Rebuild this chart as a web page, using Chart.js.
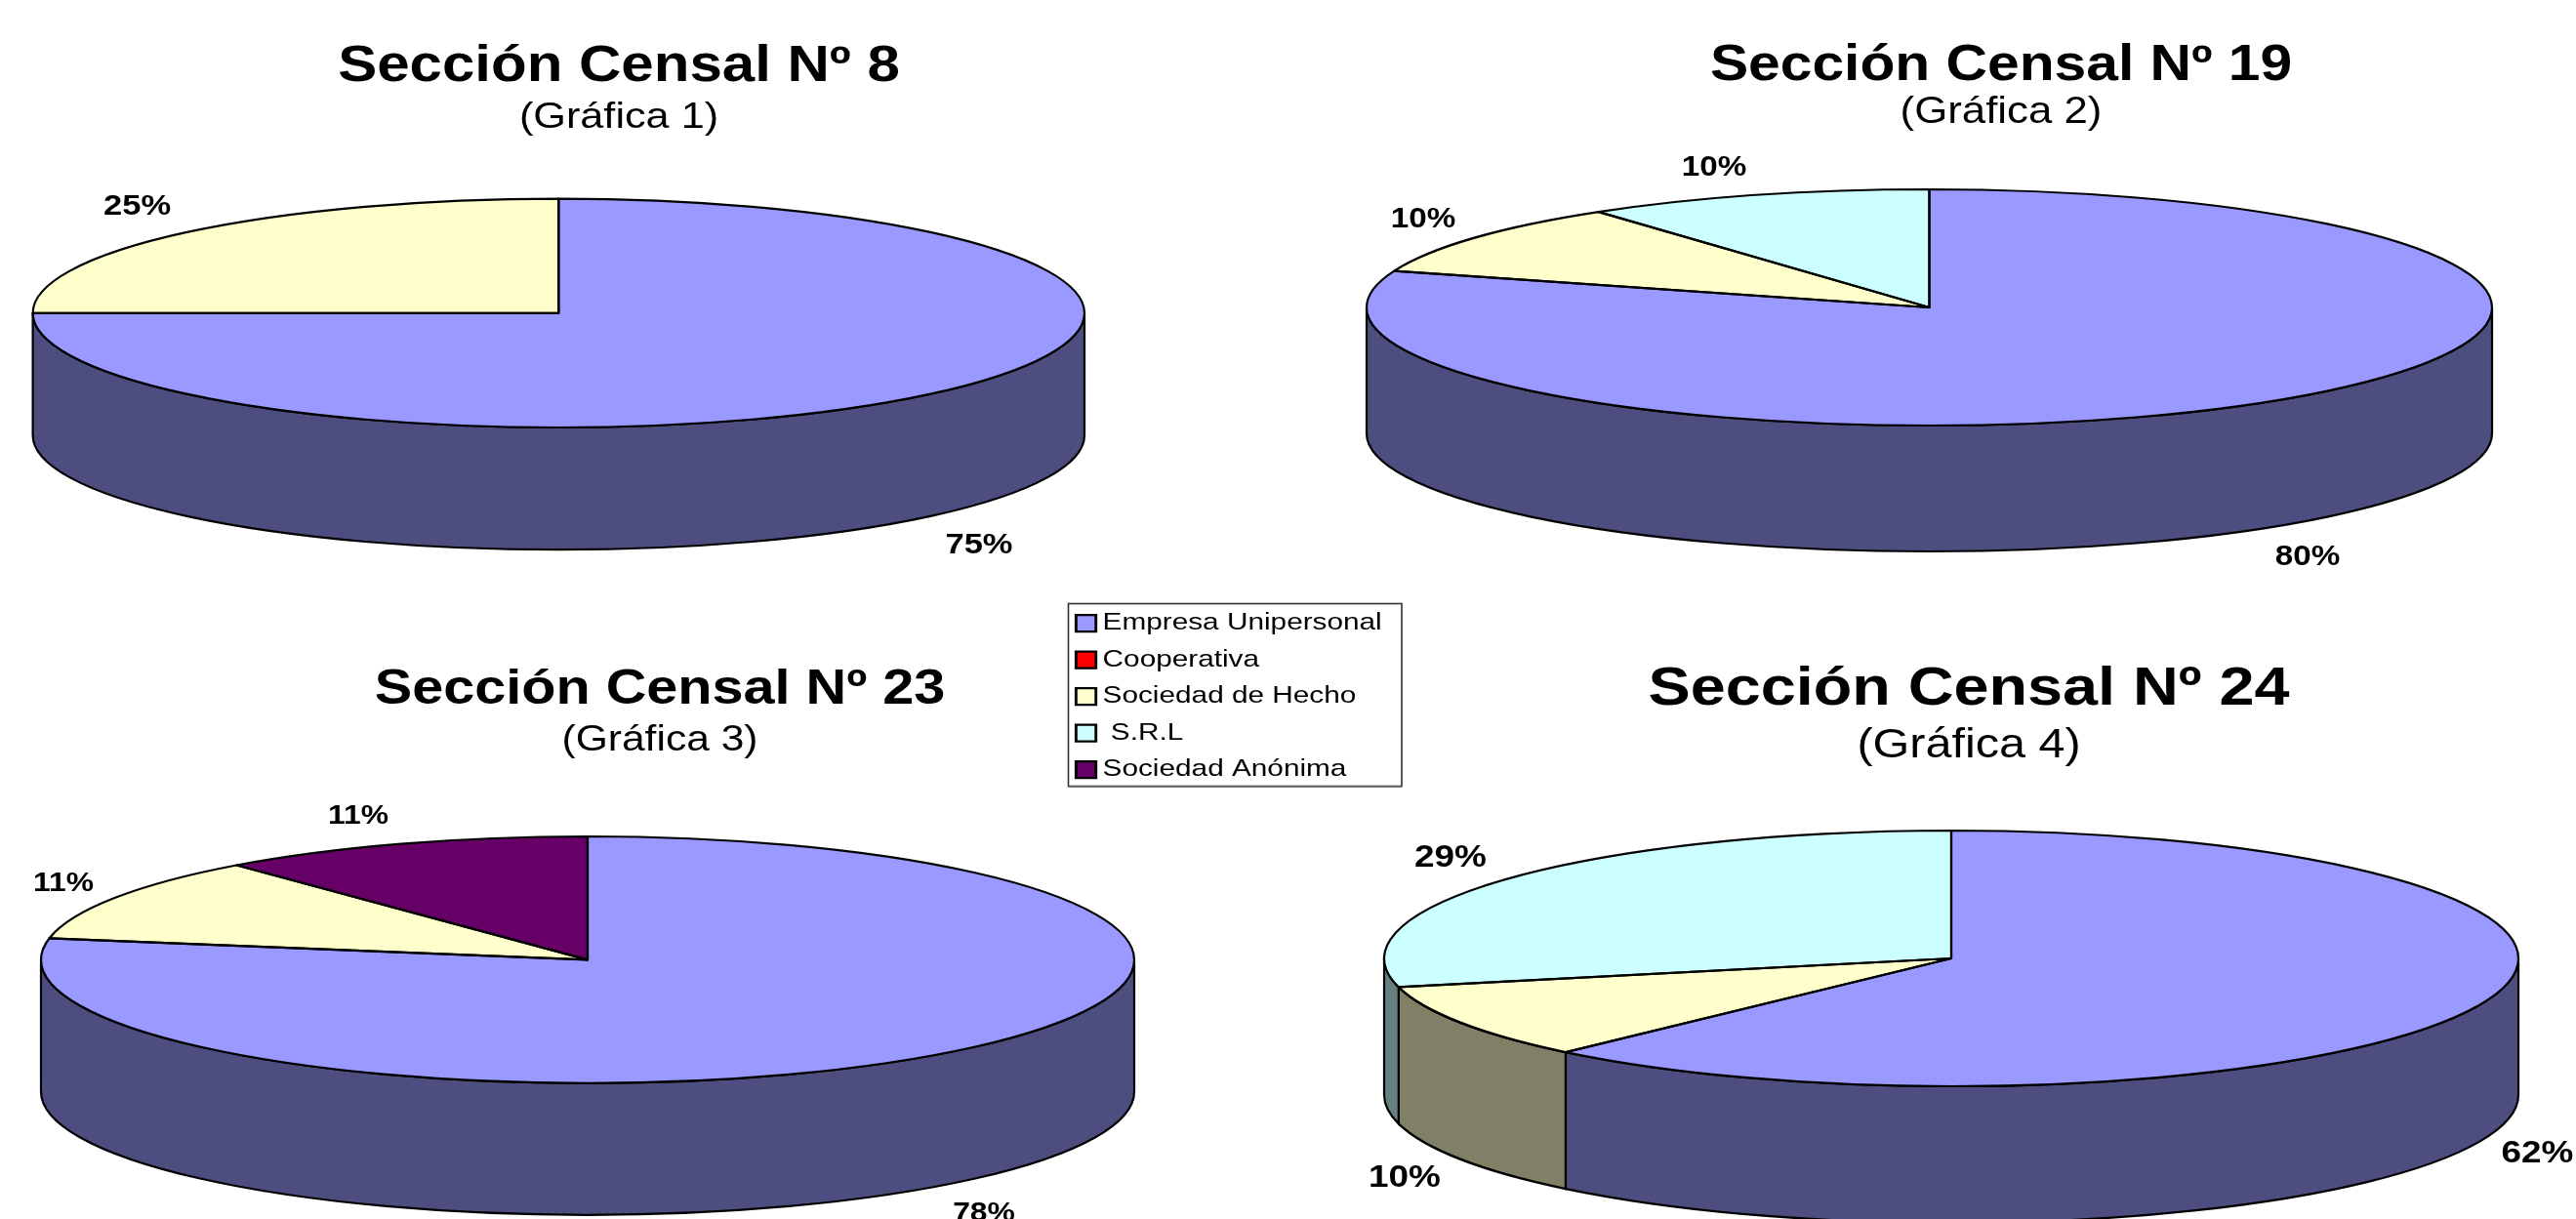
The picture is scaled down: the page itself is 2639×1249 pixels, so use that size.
<!DOCTYPE html>
<html>
<head>
<meta charset="utf-8">
<script src="https://cdn.jsdelivr.net/npm/chart.js@4/dist/chart.umd.min.js"></script>
<style>
html,body{margin:0;padding:0;background:#fff;width:2639px;height:1249px;overflow:hidden}
canvas{position:absolute;left:0;top:0}
</style>
</head>
<body>
<script>
// ---- data ----
const categories = ['Empresa Unipersonal', 'Cooperativa', 'Sociedad de Hecho', ' S.R.L', 'Sociedad Anónima'];
const seccion8  = [75, 0, 25, 0, 0];
const seccion19 = [80, 0, 10, 10, 0];
const seccion23 = [77.8, 0, 11.1, 0, 11.1];
const seccion24 = [61.9, 0, 9.5, 28.6, 0];
const titles    = ['Sección Censal Nº 8', 'Sección Censal Nº 19', 'Sección Censal Nº 23', 'Sección Censal Nº 24'];
const subtitles = ['(Gráfica 1)', '(Gráfica 2)', '(Gráfica 3)', '(Gráfica 4)'];

// ---- styling ----
const topColors  = ['#9999FF', '#FF0000', '#FFFFCC', '#CCFFFF', '#660066'];
const wallColors = ['#4D4D80', '#800000', '#808066', '#668080', '#330033'];
const FONT = '"Liberation Sans", Arial, sans-serif';
const SX = 1.15;         // the original artwork is stretched horizontally
const LEGEND_SX = 1.2;
const W = 2639, H = 1249, R = 100, LINE = 2.2;

const layouts = [
  { values: seccion8,  cx: 572.3, cy: 320.8, a: 538.7, b: 117.2, depth: 125.2,
    textCx: 634, titleSize: 52.2, titleBase: 87, subSize: 37.6, subBase: 134, labelSize: 30,
    labels: [[1003, 559], null, [140.6, 211.5], null, null] },
  { values: seccion19, cx: 1976.5, cy: 315, a: 576.5, b: 121, depth: 129,
    textCx: 2050, titleSize: 51.1, titleBase: 86, subSize: 38.1, subBase: 129, labelSize: 28.9,
    labels: [[2364, 571.5], null, [1458, 225], [1756, 172.5], null] },
  { values: seccion23, cx: 602, cy: 983.4, a: 560, b: 126.4, depth: 135,
    textCx: 676, titleSize: 50.1, titleBase: 725, subSize: 37, subBase: 771.5, labelSize: 27.7,
    labels: [[1008, 1243.5], null, [65, 905], null, [367, 836.5]] },
  { values: seccion24, cx: 1999, cy: 982, a: 581, b: 131, depth: 140,
    textCx: 2017, titleSize: 56.3, titleBase: 726, subSize: 42.2, subBase: 778.5, labelSize: 32.1,
    labels: [[2599.5, 1182.5], null, [1439, 1207], [1486, 879], null] }
];

function stretchPlugin(originX) {
  return {
    id: 'stretch',
    beforeDraw(chart) {
      const c = chart.ctx; c.save();
      c.translate(originX, 0); c.scale(SX, 1); c.translate(-W / 2, 0);
    },
    afterDraw(chart) { chart.ctx.restore(); }
  };
}

function pie3dPlugin(L) {
  const toPie = (c, arc) => {
    c.setTransform(1, 0, 0, 1, 0, 0);
    c.translate(L.cx, L.cy);
    c.scale(L.a / R, L.b / R);
    c.translate(-arc.x, -arc.y);
  };
  const arcs = chart => chart.getDatasetMeta(0).data;
  return {
    id: 'pie3d',
    beforeDatasetsDraw(chart) {
      const c = chart.ctx;
      // side wall: front half of each slice
      arcs(chart).forEach((arc, i) => {
        const lo = Math.max(arc.startAngle, 0), hi = Math.min(arc.endAngle, Math.PI);
        if (hi <= lo) return;
        c.save();
        c.setTransform(1, 0, 0, 1, 0, 0);
        const px = t => L.cx + L.a * Math.cos(t), py = t => L.cy + L.b * Math.sin(t);
        c.beginPath();
        c.ellipse(L.cx, L.cy, L.a, L.b, 0, lo, hi);
        c.lineTo(px(hi), py(hi) + L.depth);
        c.ellipse(L.cx, L.cy + L.depth, L.a, L.b, 0, hi, lo, true);
        c.closePath();
        c.fillStyle = wallColors[i];
        c.fill();
        c.lineWidth = LINE; c.strokeStyle = '#000'; c.stroke();
        c.restore();
      });
      c.save();
      toPie(c, arcs(chart)[0]);
    },
    afterDatasetsDraw(chart) {
      const c = chart.ctx;
      c.restore();
      c.save();
      // outlines at a constant pen width
      arcs(chart).forEach(arc => {
        if (arc.endAngle - arc.startAngle <= 0) return;
        c.save();
        toPie(c, arc);
        c.beginPath();
        c.moveTo(arc.x, arc.y);
        c.arc(arc.x, arc.y, arc.outerRadius, arc.startAngle, arc.endAngle);
        c.closePath();
        c.setTransform(1, 0, 0, 1, 0, 0);
        c.lineWidth = LINE; c.lineJoin = 'round'; c.strokeStyle = '#000'; c.stroke();
        c.restore();
      });
      // percentage labels
      L.values.forEach((v, i) => {
        if (!v || !L.labels[i]) return;
        c.setTransform(SX, 0, 0, 1, L.labels[i][0], L.labels[i][1]);
        c.font = 'bold ' + L.labelSize + 'px ' + FONT;
        c.textAlign = 'center'; c.textBaseline = 'middle'; c.fillStyle = '#000';
        c.fillText(Math.round(v) + '%', 0, 0);
      });
      c.restore();
    }
  };
}

Chart.defaults.color = '#000';
Chart.defaults.font.family = FONT;

layouts.forEach((L, n) => {
  const cv = document.createElement('canvas');
  cv.width = W; cv.height = H; cv.style.width = W + 'px'; cv.style.height = H + 'px';
  document.body.appendChild(cv);
  const MID = 0.3465;
  const titleCentre = L.titleBase - MID * L.titleSize;
  const subCentre = L.subBase - MID * L.subSize;
  const padTop = titleCentre - 0.6 * L.titleSize;
  const padBottom = (subCentre - 0.6 * L.subSize) - (titleCentre + 0.6 * L.titleSize);
  new Chart(cv, {
    type: 'pie',
    data: {
      labels: categories,
      datasets: [{ data: L.values, backgroundColor: topColors, borderWidth: 0, clip: false }]
    },
    options: {
      responsive: false, animation: false, devicePixelRatio: 1,
      radius: R,
      events: [],
      layout: { padding: 0 },
      plugins: {
        legend: { display: false },
        tooltip: { enabled: false },
        title: { display: true, text: titles[n], color: '#000',
                 font: { size: L.titleSize, weight: 'bold', family: FONT },
                 padding: { top: padTop, bottom: padBottom } },
        subtitle: { display: true, text: subtitles[n], color: '#000',
                 font: { size: L.subSize, weight: 'normal', family: FONT },
                 padding: { top: 0, bottom: 0 } }
      }
    },
    plugins: [stretchPlugin(L.textCx), pie3dPlugin(L)]
  });
});

// shared legend
(function () {
  const FR = { x: 1094.5, y: 618.5, w: 341.5, h: 187 };
  const cv = document.createElement('canvas');
  cv.width = W; cv.height = H; cv.style.width = W + 'px'; cv.style.height = H + 'px';
  document.body.appendChild(cv);
  new Chart(cv, {
    type: 'pie',
    data: {
      labels: categories,
      datasets: [{ data: seccion8, backgroundColor: topColors, borderColor: '#000', borderWidth: 2.4, radius: 0 }]
    },
    options: {
      responsive: false, animation: false, devicePixelRatio: 1, events: [],
      radius: 0,
      layout: { padding: 0 },
      plugins: {
        tooltip: { enabled: false },
        legend: {
          display: true, position: 'left', align: 'start',
          labels: { font: { size: 24.8, family: FONT }, color: '#000', padding: 12.7,
                    usePointStyle: true, pointStyle: 'rect', boxWidth: 3.65, boxHeight: 17 }
        }
      }
    },
    plugins: [{
      id: 'legendPlace',
      beforeDraw(chart) {
        const c = chart.ctx;
        c.save();
        c.lineWidth = 1.6; c.strokeStyle = '#333';
        c.strokeRect(FR.x, FR.y, FR.w, FR.h);
        c.strokeStyle = '#777';
        c.beginPath(); c.moveTo(FR.x, FR.y + FR.h + 0.6); c.lineTo(FR.x + FR.w, FR.y + FR.h + 0.6); c.stroke();
        c.restore();
        c.save();
        c.setTransform(LEGEND_SX, 0, 0, 1, 1095.1, 613.5);
      },
      afterDraw(chart) { chart.ctx.restore(); }
    }]
  });
})();
</script>
</body>
</html>
